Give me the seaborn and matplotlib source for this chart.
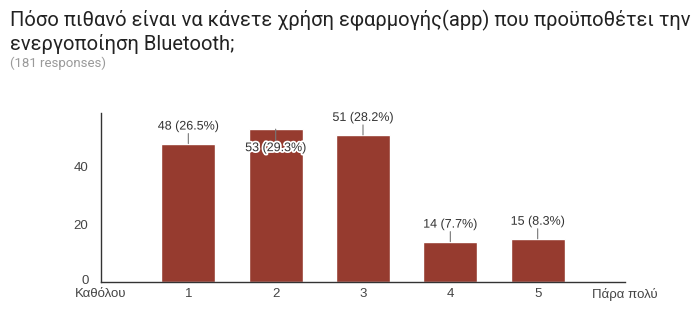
import matplotlib
matplotlib.use("Agg")
import matplotlib.pyplot as plt
import matplotlib.patheffects as pe
import matplotlib.transforms as mtransforms
import seaborn as sns
import pandas as pd

categories = ["Καθόλου", "1", "2", "3", "4", "5", "Πάρα πολύ"]
counts = [0, 48, 53, 51, 14, 15, 0]
label_side = [1, 1, -1, 1, 1, 1, 1]  # +1 above bar, -1 below bar top
total = 181
yticks = [0, 20, 40]

title = "Πόσο πιθανό είναι να κάνετε χρήση εφαρμογής(app) που προϋποθέτει την\nενεργοποίηση Bluetooth;"
subtitle = "(181 responses)"

sns.set_theme(style="white")
plt.rcParams["font.family"] = ["Liberation Sans", "DejaVu Sans"]

df = pd.DataFrame({"cat": categories, "n": counts})

fig = plt.figure(figsize=(7.0, 3.14), dpi=100)
ax = fig.add_axes([101/700, 1-282/314, (625-101)/700, (282-113)/314])

sns.barplot(data=df, x="cat", y="n", order=categories, color="#963b2f",
            saturation=1, width=0.62, ax=ax)

ax.set_xlim(0, 6)
ax.set_ylim(0, 58.6)
ax.set_yticks(yticks)
ax.set_xlabel("")
ax.set_ylabel("")
for s in ["top", "right"]:
    ax.spines[s].set_visible(False)
for s in ["left", "bottom"]:
    ax.spines[s].set_color("#333333")
    ax.spines[s].set_linewidth(1.0)
ax.tick_params(axis="both", length=0, labelsize=9.5, colors="#444444")
ax.tick_params(axis="y", pad=9)
ax.tick_params(axis="x", pad=4.5)

# nudge the "0" label up slightly, as in the reference
zero_label = ax.yaxis.get_major_ticks()[0].label1
zero_label.set_transform(zero_label.get_transform() +
                         mtransforms.ScaledTranslation(0, 3/100, fig.dpi_scale_trans))

for i, (c, n) in enumerate(zip(categories, counts)):
    if n <= 0:
        continue
    pct = n / total * 100
    side = label_side[i]
    off = 17 if side > 0 else -19
    # leader line from bar top toward the label
    ax.annotate("", xy=(i, n), xytext=(0, (abs(off) - 7) * side),
                textcoords="offset pixels",
                arrowprops=dict(arrowstyle="-", color="#777777", lw=0.8,
                                shrinkA=0, shrinkB=0))
    ax.annotate(f"{n} ({pct:.1f}%)", xy=(i, n), xytext=(0, off),
                textcoords="offset pixels", ha="center", va="center",
                fontsize=9, color="#333333",
                path_effects=[pe.withStroke(linewidth=2.5, foreground="white")])

fig.text(10/700, 1-32/314, title, fontsize=14.5, family=["Roboto", "DejaVu Sans"],
         color="#222222", ha="left", va="center", linespacing=1.2)
fig.text(10/700, 1-63.5/314, subtitle, fontsize=9.5, family=["Roboto", "DejaVu Sans"],
         color="#9a9a9a", ha="left", va="center")

fig.savefig("out.png", dpi=100)
